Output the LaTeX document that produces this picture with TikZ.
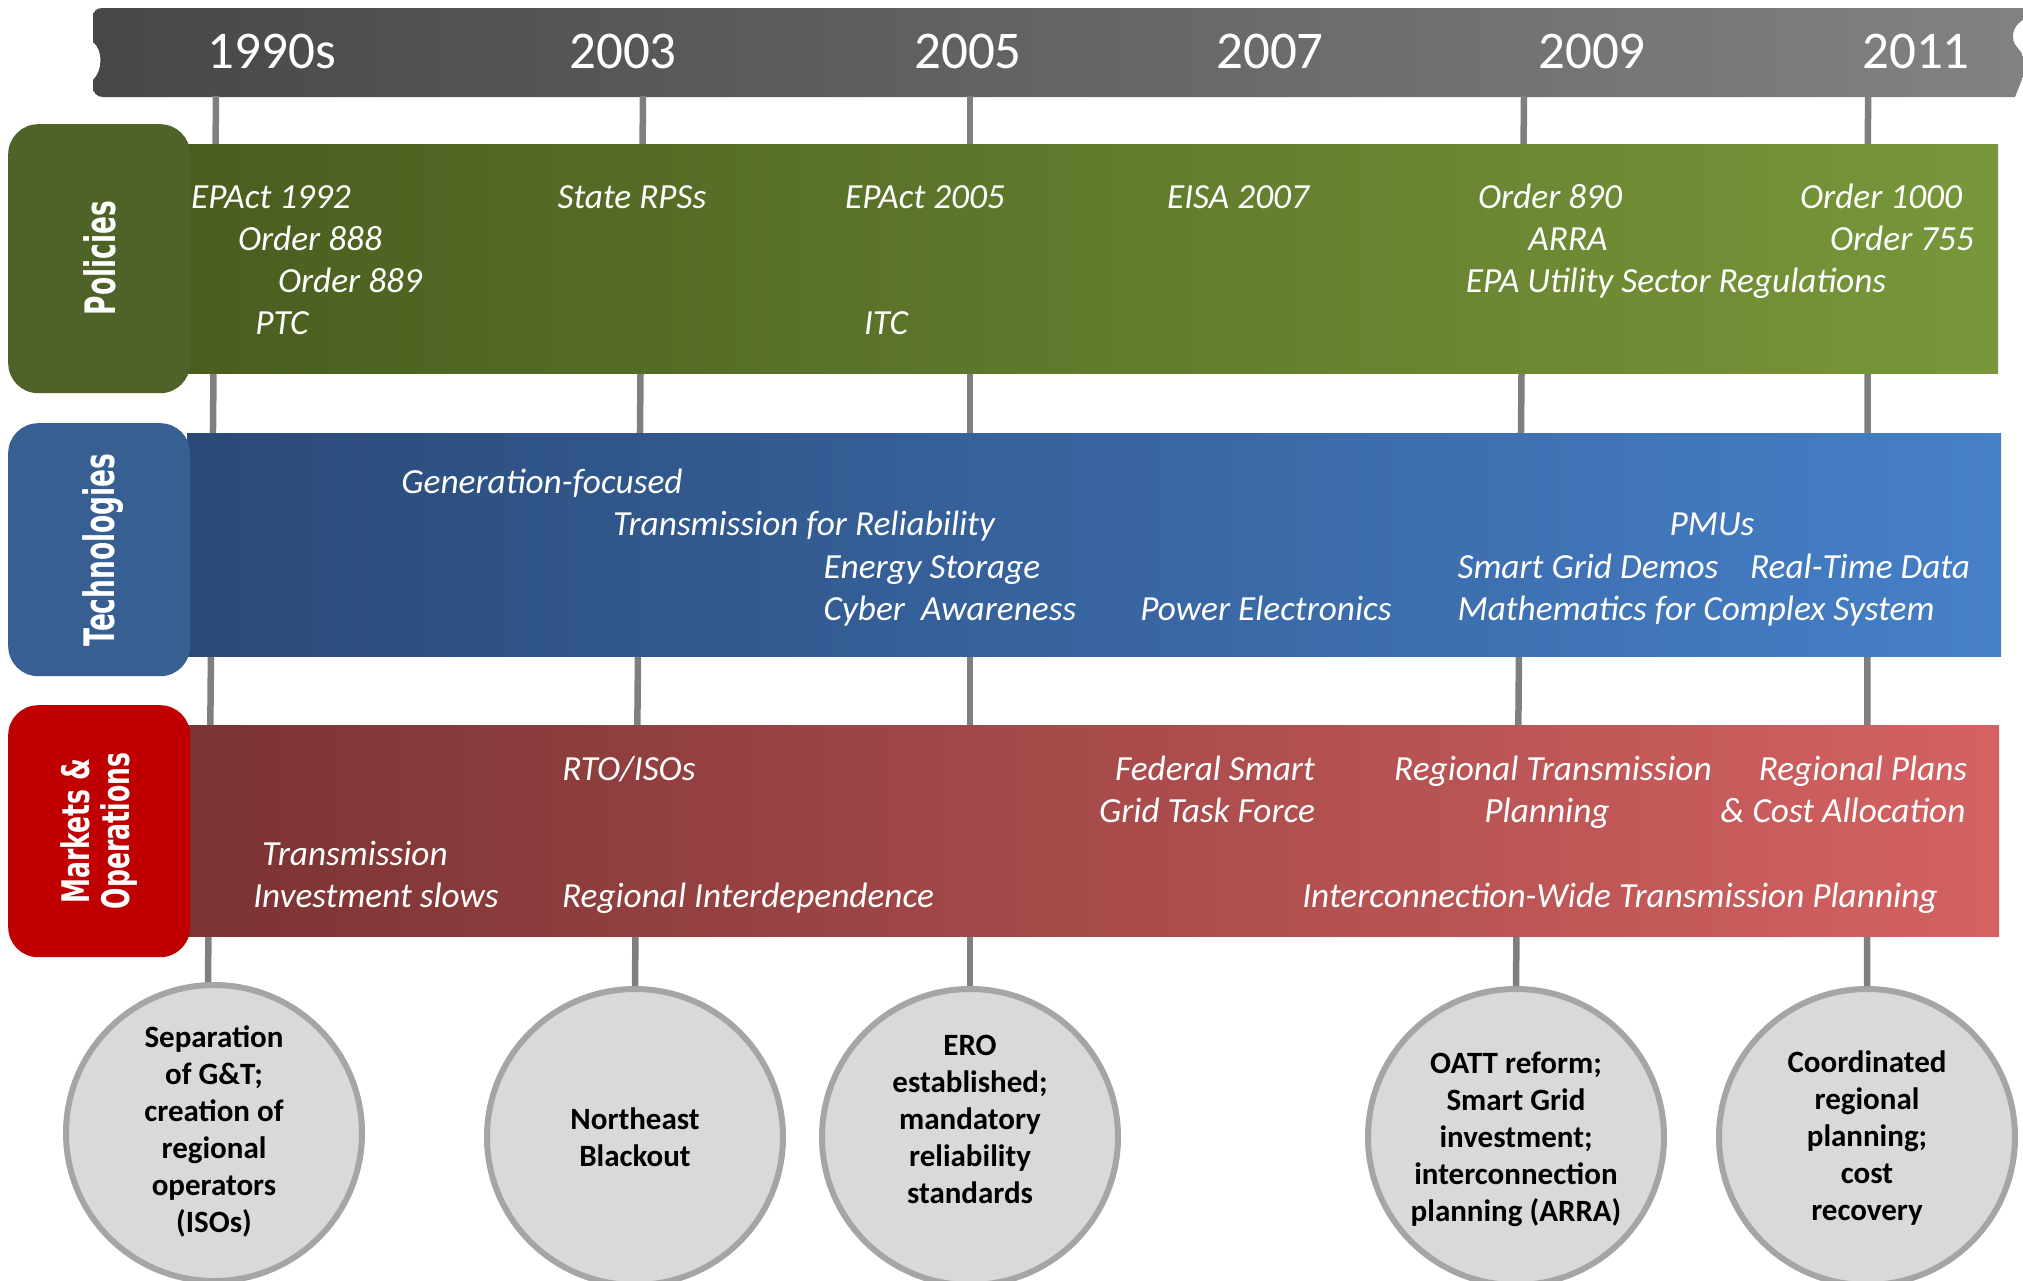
\documentclass[tikz,border=0pt]{standalone}
\usepackage{fontspec}
\usepackage{graphicx}
\setmainfont{Carlito}
\newfontfamily\heavyfont{DejaVu Sans}
\definecolor{hdrL}{HTML}{474747}
\definecolor{hdrR}{HTML}{828282}
\definecolor{polL}{HTML}{4A5D1F}
\definecolor{polR}{HTML}{78973A}
\definecolor{polBox}{HTML}{4F6228}
\definecolor{tecL}{HTML}{2A4977}
\definecolor{tecR}{HTML}{4680C8}
\definecolor{tecBox}{HTML}{375F92}
\definecolor{mkL}{HTML}{7B3333}
\definecolor{mkR}{HTML}{D46262}
\definecolor{mkBox}{HTML}{C00000}
\definecolor{tickgray}{HTML}{7F7F7F}
\definecolor{ringgray}{HTML}{A5A5A5}
\definecolor{evfill}{HTML}{D9D9D9}
\begin{document}
\begin{tikzpicture}[x=1pt,y=-1pt,
  item/.style={text=white, font=\fontsize{35.3}{42}\selectfont\itshape, inner sep=0pt, anchor=base},
  yearlbl/.style={text=white, font=\fontsize{53}{60}\selectfont, inner sep=0pt, anchor=base},
  tick/.style={draw=tickgray, line width=6.5pt},
  event/.style={circle, draw=ringgray, fill=evfill, line width=6pt, minimum size=296pt, inner sep=0pt},
  evtext/.style={font=\fontsize{31}{37}\selectfont\bfseries, align=center, inner sep=0pt, text=black},
  band/.style={rectangle, anchor=north west, inner sep=0pt, draw=none},
  catbox/.style={rectangle, rounded corners=30pt, anchor=north west, inner sep=0pt, minimum width=182pt, draw=none},
  cattext/.style={text=white, rotate=90, inner sep=0pt, align=center, font=\heavyfont\bfseries\fontsize{42}{40}\selectfont}
]
\useasboundingbox (0,0) rectangle (2023,1280);
\clip (0,0) rectangle (2023,1280);

% header ribbon
\path[left color=hdrL, right color=hdrR]
  (103,8) -- (2023,8) -- (2023,20)
  .. controls (2012,26) and (2010,40) .. (2017,47)
  .. controls (2020,51) and (2023,54) .. (2023,57)
  -- (2023,77) -- (2015,97) -- (103,97)
  .. controls (97,97) and (93,93) .. (93,87) -- (93,80)
  .. controls (103,70) and (103,50) .. (93,42) -- (93,18)
  .. controls (93,11) and (96,8) .. (103,8) -- cycle;

\node[yearlbl] (y1990) at (272,68) {1990s};
\node[yearlbl] (y2003) at (623,68) {2003};
\node[yearlbl] (y2005) at (968,68) {2005};
\node[yearlbl] (y2007) at (1270,68) {2007};
\node[yearlbl] (y2009) at (1592,68) {2009};
\node[yearlbl] (y2011) at (1916,68) {2011};

\coordinate (t1) at (216,96);
\coordinate (t2) at (643,96);
\coordinate (t3) at (970,96);
\coordinate (t4) at (1524,96);
\coordinate (t5) at (1868,96);

% event circles
\node[event] (c1) at (214,1133) {};
\node[event] (c2) at (635,1137) {};
\node[event] (c3) at (970,1137) {};
\node[event] (c4) at (1516,1137) {};
\node[event] (c5) at (1867,1137) {};

\draw[tick] (t1) -- ([xshift=-6pt]c1.north);
\draw[tick] (t2) -- (c2.north);
\draw[tick] (t3) -- (c3.north);
\draw[tick] (t4) -- (c4.north);
\draw[tick] (t5) -- (c5.north);

% bands
\node[band, left color=polL, right color=polR, minimum width=1811pt, minimum height=229pt] (polband) at (187,144) {};
\node[band, left color=tecL, right color=tecR, minimum width=1814pt, minimum height=223pt] (tecband) at (187,433) {};
\node[band, left color=mkL, right color=mkR, minimum width=1812pt, minimum height=211pt] (mkband) at (187,725) {};

% category boxes
\node[catbox, fill=polBox, minimum height=269pt] (polbox) at (8,124) {};
\node[catbox, fill=tecBox, minimum height=253pt] (tecbox) at (8,423) {};
\node[catbox, fill=mkBox, minimum height=252pt] (mkbox) at (8,705) {};

\node[cattext] (poltext) at (100,258) {\scalebox{0.63}[1]{Policies}};
\node[cattext] (tectext) at (103,550) {\scalebox{0.63}[1]{Technologies}};
\node[cattext, font=\heavyfont\bfseries\fontsize{38}{40}\selectfont] (mktext) at (99,831) {\scalebox{0.66}[1]{Markets \&}\\\scalebox{0.66}[1]{Operations}};

% policies items
\node[item] (p1) at (271,208) {EPAct 1992};
\node[item] (p2) at (310,250) {Order 888};
\node[item] (p3) at (350,292) {Order 889};
\node[item] (p4) at (282,334) {PTC};
\node[item] (p5) at (632,208) {State RPSs};
\node[item] (p6) at (925,208) {EPAct 2005};
\node[item] (p7) at (886,334) {ITC};
\node[item] (p8) at (1238,208) {EISA 2007};
\node[item] (p9) at (1550,208) {Order 890};
\node[item] (p10) at (1568,250) {ARRA};
\node[item] (p11) at (1676,292) {EPA Utility Sector Regulations};
\node[item] (p12) at (1881,208) {Order 1000};
\node[item] (p13) at (1902,250) {Order 755};

% technologies items
\node[item] (k1) at (542,493) {Generation-focused};
\node[item] (k2) at (804,535) {Transmission for Reliability};
\node[item] (k3) at (932,578) {Energy Storage};
\node[item] (k4) at (950,620) {Cyber~~Awareness};
\node[item] (k5) at (1266,620) {Power Electronics};
\node[item] (k6) at (1712,535) {PMUs};
\node[item] (k7) at (1588,578) {Smart Grid Demos};
\node[item] (k8) at (1860,578) {Real-Time Data};
\node[item] (k9) at (1696,620) {Mathematics for Complex System};

% markets items
\node[item] (m1) at (629,780) {RTO/ISOs};
\node[item] (m2) at (1215,780) {Federal Smart};
\node[item] (m3) at (1207,822) {Grid Task Force};
\node[item] (m4) at (1553,780) {Regional Transmission};
\node[item] (m5) at (1547,822) {Planning};
\node[item] (m6) at (1863,780) {Regional Plans};
\node[item] (m7) at (1843,822) {\& Cost Allocation};
\node[item] (m8) at (355,865) {Transmission};
\node[item] (m9) at (376,907) {Investment slows};
\node[item] (m10) at (748,907) {Regional Interdependence};
\node[item] (m11) at (1620,907) {Interconnection-Wide Transmission Planning};

% event texts
\node[evtext] (e1) at (214,1131) {Separation\\of G\&T;\\creation of\\regional\\operators\\(ISOs)};
\node[evtext] (e2) at (635,1137) {Northeast\\Blackout};
\node[evtext] (e3) at (970,1119) {ERO\\established;\\mandatory\\reliability\\standards};
\node[evtext] (e4) at (1516,1139) {OATT reform;\\Smart Grid\\investment;\\interconnection\\planning (ARRA)};
\node[evtext] (e5) at (1867,1138) {Coordinated\\regional\\planning;\\cost\\recovery};
\end{tikzpicture}
\end{document}
